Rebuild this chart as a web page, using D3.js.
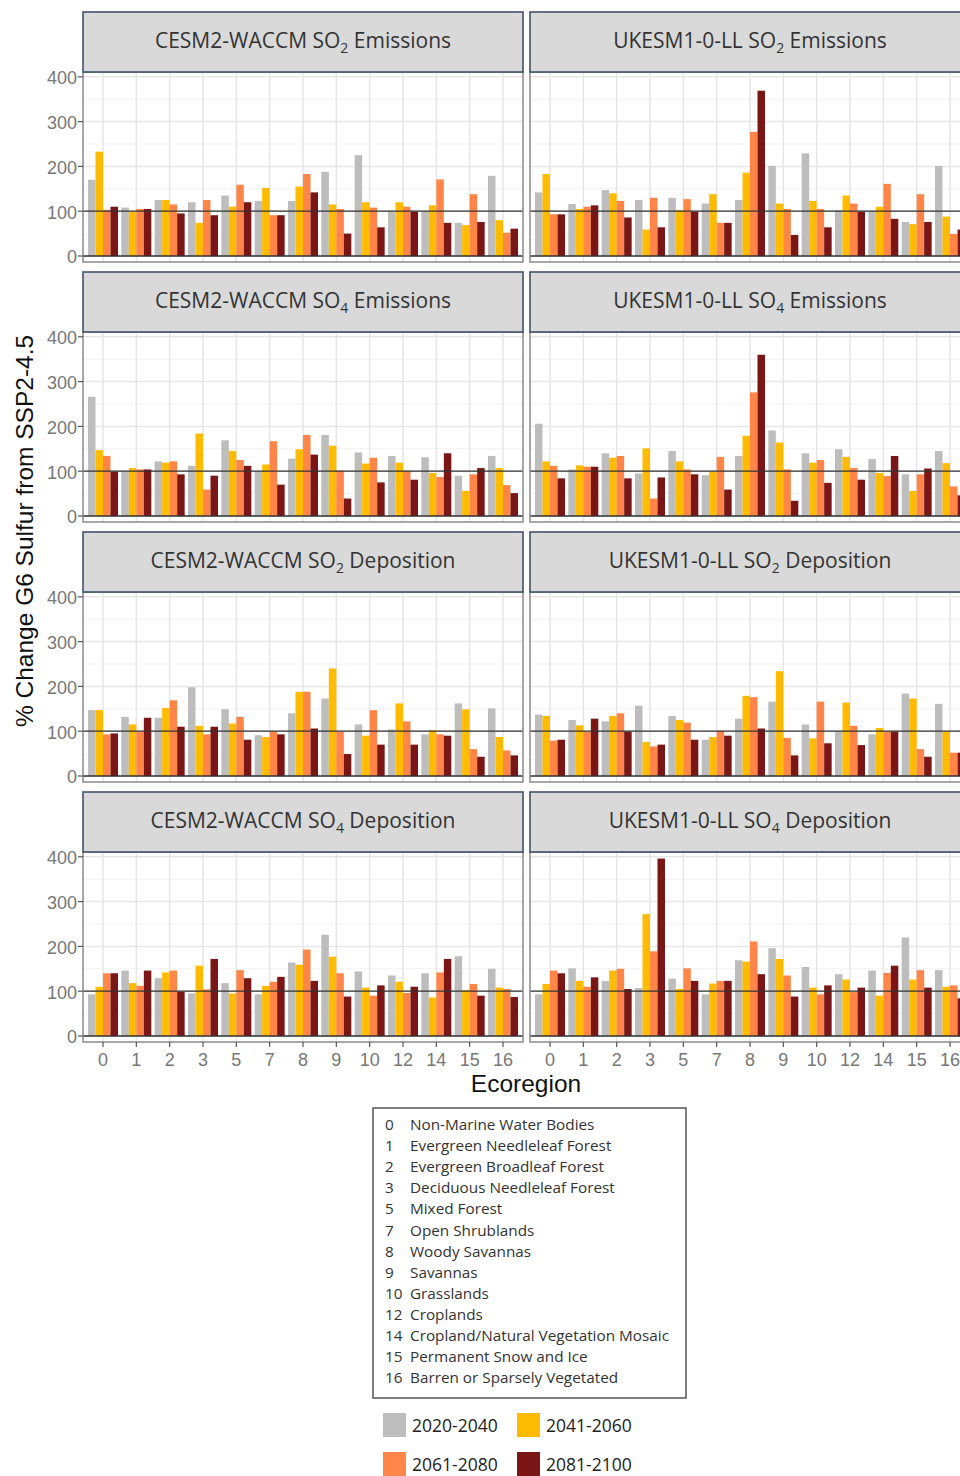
<!DOCTYPE html>
<html>
<head>
<meta charset="utf-8">
<script src="https://cdn.jsdelivr.net/npm/d3@7"></script>
<style>
  body { margin: 0; background: #fff; }
  svg { display: block; }
  .strip-text { font-family: "Open Sans", sans-serif; font-size: 21px; fill: #333; }
  .tick-label { font-family: "Liberation Sans", Arial, sans-serif; font-size: 18px; fill: #777; }
  .axis-title { font-family: "Liberation Sans", Arial, sans-serif; font-size: 24.5px; fill: #111; }
  .legend-text { font-family: "Open Sans", sans-serif; font-size: 15.3px; fill: #333; }
  .period-text { font-family: "Open Sans", sans-serif; font-size: 17.5px; fill: #222; }
</style>
</head>
<body>
<svg id="chart"></svg>
<script>
// ── Categories ──
const ecoregions = ["0", "1", "2", "3", "5", "7", "8", "9", "10", "12", "14", "15", "16"];
const ecoregionNames = [
  "Non-Marine Water Bodies", "Evergreen Needleleaf Forest", "Evergreen Broadleaf Forest",
  "Deciduous Needleleaf Forest", "Mixed Forest", "Open Shrublands", "Woody Savannas",
  "Savannas", "Grasslands", "Croplands", "Cropland/Natural Vegetation Mosaic",
  "Permanent Snow and Ice", "Barren or Sparsely Vegetated"
];
const periods = ["2020-2040", "2041-2060", "2061-2080", "2081-2100"];
const periodColors = ["#bdbdbd", "#ffbb00", "#ff8548", "#7a1616"];
const yTicks = [0, 100, 200, 300, 400];
const yMinor = [50, 150, 250, 350];

// ── Values: per ecoregion [2020-2040, 2041-2060, 2061-2080, 2081-2100] ──
const cesmSO2Emis = [
  [170, 233, 103, 110], [108, 99, 105, 105], [125, 125, 115, 95], [120, 74, 125, 91],
  [135, 110, 159, 120], [123, 152, 91, 91], [123, 155, 183, 142], [188, 115, 105, 50],
  [225, 120, 108, 64], [99, 120, 110, 99], [100, 113, 171, 74], [74, 69, 138, 76],
  [179, 80, 52, 61]
];
const ukSO2Emis = [
  [142, 183, 93, 93], [116, 105, 110, 113], [147, 140, 123, 86], [125, 59, 130, 64],
  [130, 102, 127, 99], [117, 138, 74, 74], [125, 186, 277, 369], [201, 117, 105, 47],
  [229, 123, 105, 64], [102, 135, 117, 99], [100, 110, 161, 83], [76, 71, 138, 76],
  [201, 88, 49, 59]
];
const cesmSO4Emis = [
  [266, 147, 134, 99], [100, 107, 104, 104], [122, 119, 122, 93], [112, 184, 59, 90],
  [169, 145, 125, 112], [100, 115, 167, 70], [128, 149, 181, 137], [181, 157, 101, 39],
  [142, 117, 130, 75], [134, 119, 101, 81], [131, 96, 87, 140], [90, 56, 93, 107],
  [134, 107, 69, 51]
];
const ukSO4Emis = [
  [206, 122, 112, 84], [104, 113, 110, 110], [140, 130, 134, 84], [95, 151, 39, 86],
  [145, 122, 104, 93], [91, 99, 132, 59], [134, 179, 276, 360], [191, 164, 104, 34],
  [140, 119, 125, 74], [149, 132, 107, 81], [127, 96, 89, 134], [93, 56, 93, 106],
  [145, 118, 66, 46]
];
const cesmSO2Dep = [
  [147, 147, 93, 95], [132, 115, 99, 130], [130, 152, 169, 110], [198, 112, 93, 110],
  [149, 117, 132, 81], [91, 87, 99, 93], [140, 188, 188, 106], [173, 240, 99, 49],
  [115, 90, 147, 70], [104, 162, 122, 70], [93, 102, 93, 90], [162, 149, 60, 43],
  [151, 87, 57, 46]
];
const ukSO2Dep = [
  [137, 134, 79, 81], [125, 113, 99, 128], [122, 134, 140, 99], [157, 76, 66, 70],
  [134, 125, 119, 81], [81, 87, 101, 90], [128, 179, 176, 106], [166, 234, 85, 46],
  [115, 84, 166, 73], [100, 164, 112, 69], [93, 107, 99, 99], [184, 173, 60, 43],
  [161, 99, 52, 52]
];
const cesmSO4Dep = [
  [93, 110, 140, 140], [146, 118, 112, 146], [129, 142, 146, 99], [95, 157, 104, 172],
  [118, 95, 147, 129], [93, 112, 121, 132], [164, 159, 193, 123], [226, 177, 140, 88],
  [144, 108, 90, 113], [135, 121, 96, 110], [140, 86, 142, 172], [178, 102, 116, 90],
  [150, 108, 105, 87]
];
const ukSO4Dep = [
  [93, 116, 146, 140], [151, 123, 110, 131], [123, 146, 150, 105], [107, 272, 189, 396],
  [128, 105, 151, 123], [93, 117, 123, 123], [169, 166, 211, 138], [196, 172, 135, 88],
  [154, 108, 93, 113], [138, 126, 98, 108], [146, 90, 141, 157], [220, 126, 147, 108],
  [147, 110, 113, 84]
];

// ── Panel titles ──
const models = ["CESM2-WACCM", "UKESM1-0-LL"];
const species = ["2", "4", "2", "4"];
const processes = ["Emissions", "Emissions", "Deposition", "Deposition"];
const panelValues = [
  [cesmSO2Emis, ukSO2Emis],
  [cesmSO4Emis, ukSO4Emis],
  [cesmSO2Dep, ukSO2Dep],
  [cesmSO4Dep, ukSO4Dep]
];

// ── Layout ──
const W = 960, H = 1476;
const colX = [83, 530];
const panelW = 440;
const rowPitch = 260;
const stripTop = 12, stripH = 60;
const plotTop = 72, plotH = 190;

const svg = d3.select("#chart").attr("width", W).attr("height", H);

const x = d3.scaleBand()
  .domain(ecoregions)
  .range([0, panelW])
  .paddingInner(0.1)
  .paddingOuter(0.15);

const xInner = d3.scaleBand()
  .domain(periods)
  .range([0, x.bandwidth()]);

const y = d3.scaleLinear()
  .domain([-13.4, 410.7])
  .range([plotH, 0]);

panelValues.forEach((row, r) => {
  row.forEach((values, c) => {
    const g = svg.append("g")
      .attr("transform", `translate(${colX[c]},${plotTop + r * rowPitch})`);

    // grid
    g.selectAll(".minor")
      .data(yMinor)
      .join("line")
      .attr("x1", 0).attr("x2", panelW)
      .attr("y1", d => y(d)).attr("y2", d => y(d))
      .attr("stroke", "#f1f1f1").attr("stroke-width", 1);

    g.selectAll(".major")
      .data(yTicks)
      .join("line")
      .attr("x1", 0).attr("x2", panelW)
      .attr("y1", d => y(d)).attr("y2", d => y(d))
      .attr("stroke", "#e6e6e6").attr("stroke-width", 1.5);

    g.selectAll(".vgrid")
      .data(ecoregions)
      .join("line")
      .attr("x1", d => x(d) + x.bandwidth() / 2)
      .attr("x2", d => x(d) + x.bandwidth() / 2)
      .attr("y1", 0).attr("y2", plotH)
      .attr("stroke", "#e6e6e6").attr("stroke-width", 1.5);

    // bars
    const groups = g.selectAll(".eco")
      .data(values)
      .join("g")
      .attr("transform", (d, i) => `translate(${x(ecoregions[i])},0)`);

    groups.selectAll("rect")
      .data(d => d)
      .join("rect")
      .attr("x", (d, j) => xInner(periods[j]))
      .attr("width", xInner.bandwidth())
      .attr("y", d => y(d))
      .attr("height", d => y(0) - y(d))
      .attr("fill", (d, j) => periodColors[j]);

    // reference lines at 0 and 100
    g.selectAll(".ref")
      .data([0, 100])
      .join("line")
      .attr("x1", 0).attr("x2", panelW)
      .attr("y1", d => y(d)).attr("y2", d => y(d))
      .attr("stroke", "#333").attr("stroke-width", 1.3);

    // panel border
    g.append("rect")
      .attr("width", panelW).attr("height", plotH)
      .attr("fill", "none")
      .attr("stroke", "#8a8a8a").attr("stroke-width", 1.5);

    // strip
    const sy = stripTop - plotTop;
    g.append("rect")
      .attr("x", 0).attr("y", sy)
      .attr("width", panelW).attr("height", stripH)
      .attr("fill", "#d9d9d9")
      .attr("stroke", "#44506b").attr("stroke-width", 1.6);

    const t = g.append("text")
      .attr("class", "strip-text")
      .attr("x", panelW / 2)
      .attr("y", sy + stripH / 2 + 6)
      .attr("text-anchor", "middle");
    t.append("tspan").text(`${models[c]} SO`);
    t.append("tspan").attr("dy", 5).attr("font-size", 14).text(species[r]);
    t.append("tspan").attr("dy", -5).text(` ${processes[r]}`);

    // y axis (left column only)
    if (c === 0) {
      g.selectAll(".ytick")
        .data(yTicks)
        .join("line")
        .attr("x1", -5).attr("x2", 0)
        .attr("y1", d => y(d)).attr("y2", d => y(d))
        .attr("stroke", "#555").attr("stroke-width", 1.2);
      g.selectAll(".ylab")
        .data(yTicks)
        .join("text")
        .attr("class", "tick-label")
        .attr("x", -6)
        .attr("y", d => y(d) + 1)
        .attr("dy", "0.36em")
        .attr("text-anchor", "end")
        .text(d => d);
    }

    // x axis (bottom row only)
    if (r === panelValues.length - 1) {
      g.selectAll(".xtick")
        .data(ecoregions)
        .join("line")
        .attr("x1", d => x(d) + x.bandwidth() / 2)
        .attr("x2", d => x(d) + x.bandwidth() / 2)
        .attr("y1", plotH).attr("y2", plotH + 5)
        .attr("stroke", "#555").attr("stroke-width", 1.2);
      g.selectAll(".xlab")
        .data(ecoregions)
        .join("text")
        .attr("class", "tick-label")
        .attr("x", d => x(d) + x.bandwidth() / 2)
        .attr("y", plotH + 24)
        .attr("text-anchor", "middle")
        .text(d => d);
    }
  });
});

// ── Axis titles ──
svg.append("text")
  .attr("class", "axis-title")
  .attr("transform", "translate(33,531) rotate(-90)")
  .attr("text-anchor", "middle")
  .text("% Change G6 Sulfur from SSP2-4.5");

svg.append("text")
  .attr("class", "axis-title")
  .attr("x", 526)
  .attr("y", 1092)
  .attr("text-anchor", "middle")
  .text("Ecoregion");

// ── Ecoregion key ──
const key = svg.append("g");
key.append("rect")
  .attr("x", 373).attr("y", 1108)
  .attr("width", 313).attr("height", 290)
  .attr("fill", "#fff")
  .attr("stroke", "#555").attr("stroke-width", 1.5);

const keyRows = key.selectAll(".key-row")
  .data(ecoregions)
  .join("g")
  .attr("transform", (d, i) => `translate(0,${1130 + i * 21.1})`);

keyRows.append("text")
  .attr("class", "legend-text")
  .attr("x", 385)
  .text(d => d);

keyRows.append("text")
  .attr("class", "legend-text")
  .attr("x", 410)
  .text((d, i) => ecoregionNames[i]);

// ── Period legend ──
const periodItems = svg.selectAll(".period")
  .data(periods)
  .join("g")
  .attr("transform", (d, i) => `translate(${i % 2 === 0 ? 383 : 517},${1413 + Math.floor(i / 2) * 39})`);

periodItems.append("rect")
  .attr("width", 23).attr("height", 24)
  .attr("fill", (d, i) => periodColors[i]);

periodItems.append("text")
  .attr("class", "period-text")
  .attr("x", 29)
  .attr("y", 19)
  .text(d => d);
</script>
</body>
</html>
